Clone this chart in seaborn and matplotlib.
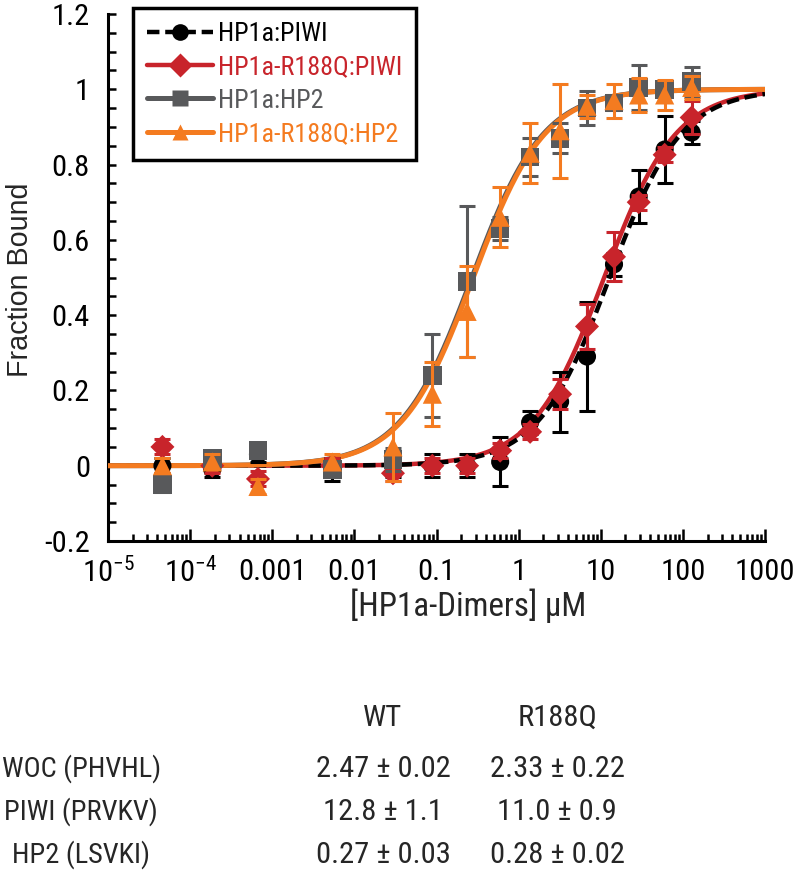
import numpy as np
import pandas as pd
import matplotlib
matplotlib.use("Agg")
import matplotlib.pyplot as plt
import seaborn as sns
from matplotlib import font_manager
from matplotlib.textpath import TextPath
from matplotlib.lines import Line2D
from matplotlib.ticker import LogLocator, NullFormatter, FixedLocator

# concentrations of HP1a dimers (uM)
conc = [4.6e-5, 1.86e-4, 6.7e-4, 5.4e-3, 0.0295, 0.089, 0.236, 0.596,
        1.38, 3.2, 6.8, 14.5, 29, 60, 128]

series_names = ["HP1a:PIWI", "HP1a-R188Q:PIWI", "HP1a:HP2", "HP1a-R188Q:HP2"]

piwi_wt = [0.0, -0.01, 0.03, -0.01, 0.0, 0.0, 0.0, 0.01,
           0.115, 0.17, 0.29, 0.535, 0.715, 0.84, 0.885]
piwi_wt_err = [0.02, 0.02, 0.02, 0.03, 0.03, 0.03, 0.03, 0.065,
               0.03, 0.08, 0.145, 0.03, 0.07, 0.09, 0.03]

piwi_mut = [0.05, 0.0, -0.035, 0.0, -0.02, 0.0, 0.0, 0.04,
            0.09, 0.19, 0.37, 0.555, 0.70, 0.826, 0.925]
piwi_mut_err = [0.02, 0.02, 0.02, 0.02, 0.02, 0.02, 0.02, 0.02,
                0.02, 0.04, 0.06, 0.065, 0.02, 0.02, 0.045]

hp2_wt = [-0.05, 0.02, 0.04, -0.01, 0.016, 0.24, 0.49, 0.63,
          0.82, 0.87, 0.95, 0.964, 1.005, 1.0, 1.02]
hp2_wt_err = [0.02, 0.02, 0.02, 0.02, 0.03, 0.11, 0.2, 0.03,
              0.05, 0.04, 0.045, 0.02, 0.06, 0.02, 0.04]

hp2_mut = [0.0, 0.01, -0.055, 0.01, 0.05, 0.19, 0.41, 0.66,
           0.83, 0.89, 0.955, 0.97, 0.985, 0.985, 1.005]
hp2_mut_err = [0.02, 0.02, 0.02, 0.02, 0.09, 0.085, 0.12, 0.08,
               0.08, 0.125, 0.03, 0.045, 0.045, 0.04, 0.03]

# Kd values used for the fitted curves (from the table)
kd_values = [12.8, 11.0, 0.27, 0.28]

table_cols = ["WT", "R188Q"]
table_rows = ["WOC (PHVHL)", "PIWI (PRVKV)", "HP2 (LSVKI)"]
table_wt = ["2.47 \u00b1 0.02", "12.8 \u00b1 1.1", "0.27 \u00b1 0.03"]
table_mut = ["2.33 \u00b1 0.22", "11.0 \u00b1 0.9", "0.28 \u00b1 0.02"]

xtick_vals = [1e-5, 1e-4, 1e-3, 1e-2, 1e-1, 1, 10, 100, 1000]
xtick_labels = [r"$\mathregular{10^{-5}}$", r"$\mathregular{10^{-4}}$",
                "0.001", "0.01", "0.1", "1", "10", "100", "1000"]
ytick_vals = [-0.2, 0, 0.2, 0.4, 0.6, 0.8, 1.0, 1.2]
ytick_labels = ["-0.2", "0", "0.2", "0.4", "0.6", "0.8", "1", "1.2"]


# the reference uses a narrow sans; pick the closest condensed face installed
def font_rank(f):
    n = f.name
    if "Liberation" in n:
        r = 0
    elif n.startswith("Noto Sans") and "CJK" not in n and "Mono" not in n:
        r = 1
    elif "Open Sans" in n:
        r = 2
    elif "Roboto" in n:
        r = 3
    else:
        r = 5
    if f.stretch == "semi-condensed":
        r += 0.5
    return r


cands = []
for f in font_manager.fontManager.ttflist:
    if f.style != "normal" or f.weight not in (400, "normal", "regular"):
        continue
    if "Mono" in f.name or "Serif" in f.name:
        continue
    if "Narrow" in f.name or f.stretch in ("condensed", "semi-condensed"):
        cands.append(f)
cands.sort(key=font_rank)

sns.set_style("ticks")
if cands:
    cond = cands[0]
    fp = font_manager.FontProperties(fname=cond.fname)
    plt.rcParams['font.family'] = [cond.name, 'DejaVu Sans']
    plt.rcParams['font.stretch'] = cond.stretch
    main_font = cond.name
else:
    fp = font_manager.FontProperties(family="Liberation Sans")
    plt.rcParams['font.family'] = ['Liberation Sans', 'DejaVu Sans']
    main_font = 'Liberation Sans'
plt.rcParams['mathtext.fontset'] = 'custom'
plt.rcParams['mathtext.rm'] = main_font


def text_px(s, size, prop):
    w = TextPath((0, 0), s, size=100, prop=prop).get_extents().width
    return w * size / 72.0


def fit_size(s, target_px, prop):
    return 100 * target_px / text_px(s, 100, prop)


tab_size = fit_size(table_wt[0], 132, fp)
leg_size = fit_size(series_names[1], 180, fp)
xl_size = fit_size("[HP1a-Dimers] \u03bcM", 232, fp)
tick_size = tab_size
yl_prop = font_manager.FontProperties(family="Liberation Sans", stretch="normal")
yl_size = fit_size("Fraction Bound", 190, yl_prop)
row_size = min(tab_size, fit_size(table_rows[1], 150, fp))
row_half = max(text_px(s, row_size, fp) for s in table_rows) / 2

colors = ["#000000", "#c8242b", "#58595b", "#f47b20"]
markers = ["o", "D", "s", "^"]
msizes = [170, 150, 180, 190]
values = [piwi_wt, piwi_mut, hp2_wt, hp2_mut]
errors = [piwi_wt_err, piwi_mut_err, hp2_wt_err, hp2_mut_err]
line_styles = [(0, (2.8, 1.3)), "-", "-", "-"]
line_widths = [3.2, 3.2, 3.6, 3.6]
line_z = [3, 2, 4, 5]
point_z = [6, 7, 8, 9]

fig = plt.figure(figsize=(8, 8.76), dpi=100)
ax = fig.add_axes([108 / 800, 1 - 541 / 876, (765 - 108) / 800, (541 - 14) / 876])

xs = np.logspace(-5, 3, 400)
for i in range(4):
    fit = xs / (kd_values[i] + xs)
    sns.lineplot(x=xs, y=fit, ax=ax, color=colors[i], linewidth=line_widths[i],
                 linestyle=line_styles[i], zorder=line_z[i], estimator=None, sort=False)

for i in range(4):
    df = pd.DataFrame({"conc": conc, "frac": values[i], "err": errors[i]})
    ax.errorbar(df["conc"], df["frac"], yerr=df["err"], fmt="none", ecolor=colors[i],
                elinewidth=2.2, capsize=6, capthick=2.2, zorder=point_z[i])
    sns.scatterplot(data=df, x="conc", y="frac", ax=ax, color=colors[i], marker=markers[i],
                    s=msizes[i], edgecolor="none", zorder=point_z[i], legend=False)

ax.set_xscale("log")
ax.set_xlim(1e-5, 1000)
ax.set_ylim(-0.2, 1.2)
ax.set_xticks(xtick_vals, xtick_labels)
ax.xaxis.set_minor_locator(LogLocator(base=10, subs=range(2, 10), numticks=50))
ax.xaxis.set_minor_formatter(NullFormatter())
ax.set_yticks(ytick_vals, ytick_labels)
ax.yaxis.set_minor_locator(FixedLocator(np.arange(-0.2, 1.21, 0.05)))

ax.tick_params(axis="both", which="both", direction="in", width=1.8, colors="black",
               labelsize=tick_size)
ax.tick_params(axis="x", which="major", length=9, pad=12)
ax.tick_params(axis="x", which="minor", length=5)
ax.tick_params(axis="y", which="both", length=6, pad=13)

sns.despine(ax=ax)
for s in ["left", "bottom"]:
    ax.spines[s].set_linewidth(2.2)
    ax.spines[s].set_color("black")

ax.set_xlabel("")
ax.set_ylabel("")
fig.text(20 / 800, 1 - 280 / 876, "Fraction Bound", fontproperties=yl_prop, fontsize=yl_size,
         rotation=90, ha="center", va="center")
fig.text(468 / 800, 1 - 606 / 876, "[HP1a-Dimers] \u03bcM", fontsize=xl_size,
         ha="center", va="center")

handles = []
for i in range(4):
    handles.append(Line2D([0], [0], color=colors[i], linestyle=line_styles[i],
                          linewidth=line_widths[i], marker=markers[i],
                          markersize=12, markeredgecolor="none"))
leg = ax.legend(handles, series_names, loc="upper left",
                bbox_to_anchor=(133 / 800, 1 - 8 / 876), bbox_transform=fig.transFigure,
                fontsize=leg_size, handlelength=2.5, handletextpad=0.2, labelspacing=0.35,
                borderpad=0.55, borderaxespad=0, frameon=True, fancybox=False,
                framealpha=1, edgecolor="black", labelcolor="linecolor")
leg.get_frame().set_linewidth(2.5)
leg.set_zorder(20)

# Kd table under the chart
col_x = [383 / 800, 557 / 800]
row_y = [769, 812, 855]
row_cx = max(74, row_half + 3)
for j, c in enumerate(table_cols):
    fig.text(col_x[j], 1 - 718 / 876, c, fontsize=tab_size, ha="center", va="center")
for r in range(3):
    y = 1 - row_y[r] / 876
    fig.text(row_cx / 800, y, table_rows[r], fontsize=row_size, ha="center", va="center")
    fig.text(col_x[0], y, table_wt[r], fontsize=tab_size, ha="center", va="center")
    fig.text(col_x[1], y, table_mut[r], fontsize=tab_size, ha="center", va="center")

fig.savefig("out.png", dpi=100)
